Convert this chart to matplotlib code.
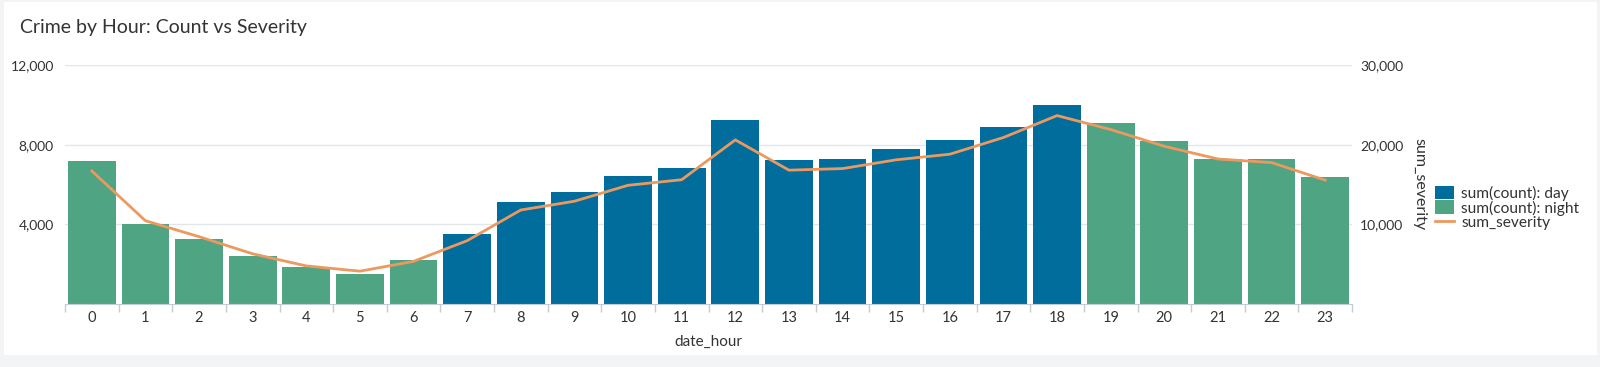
import matplotlib
matplotlib.use("Agg")
import matplotlib.pyplot as plt
from matplotlib.patches import Patch, Rectangle
from matplotlib.lines import Line2D
from matplotlib.ticker import FuncFormatter, FixedLocator
import numpy as np

hours = list(range(24))
period = ["night"] * 7 + ["day"] * 12 + ["night"] * 5
counts = [7200, 4000, 3250, 2400, 1850, 1530, 2230, 3490, 5130, 5640, 6420, 6840,
          9230, 7240, 7290, 7800, 8220, 8890, 10000, 9080, 8200, 7300, 7300, 6360]
severity = [16700, 10450, 8450, 6300, 4780, 4120, 5350, 7950, 11800, 12900, 14900, 15600,
            20600, 16800, 17000, 18100, 18800, 20900, 23650, 21900, 19800, 18200, 17750, 15550]

C_DAY = "#006D9C"
C_NIGHT = "#4FA484"
C_SEV = "#EC9960"
TXT = "#333333"
GRID = "#E1E6EB"
AXC = "#C3CBD4"

plt.rcParams["font.family"] = ["Lato", "DejaVu Sans"]

fig = plt.figure(figsize=(16, 3.67), dpi=100)
fig.patch.set_facecolor("#F2F4F5")
fig.add_artist(Rectangle((4 / 1600, 12 / 367), 1593 / 1600, 353 / 367,
                         transform=fig.transFigure, facecolor="white", edgecolor="none", zorder=0))

ax = fig.add_axes([65 / 1600, 63 / 367, 1287 / 1600, 239 / 367])
ax.set_facecolor("none")
x = np.arange(len(hours))
cnt = np.array(counts)
is_day = np.array([p == "day" for p in period])
ax.bar(x[is_day], cnt[is_day], width=0.89, color=C_DAY, zorder=2)
ax.bar(x[~is_day], cnt[~is_day], width=0.89, color=C_NIGHT, zorder=2)

ax.set_xlim(-0.5, len(hours) - 0.5)
ax.set_ylim(0, 12000)
ax.yaxis.set_major_locator(FixedLocator([4000, 8000, 12000]))
ax.yaxis.set_major_formatter(FuncFormatter(lambda v, p: f"{int(v):,}"))
ax.grid(axis="y", color=GRID, linewidth=1, zorder=0)
ax.set_axisbelow(True)
for s in ["top", "right", "left"]:
    ax.spines[s].set_visible(False)
ax.spines["bottom"].set_color(AXC)
ax.tick_params(axis="y", length=0, labelsize=10, labelcolor=TXT, pad=8)
ax.set_xticks(x)
ax.set_xticklabels([str(h) for h in hours])
ax.tick_params(axis="x", which="major", length=0, labelsize=10.5, labelcolor=TXT, pad=5)
ax.set_xticks(np.arange(-0.5, len(hours)), minor=True)
ax.tick_params(axis="x", which="minor", length=6, color=AXC, width=1)
ax.set_xlabel("date_hour", fontsize=11, color=TXT, labelpad=7)

ax2 = ax.twinx()
ax2.plot(x, severity, color=C_SEV, linewidth=2, zorder=3, solid_joinstyle="round")
ax2.set_ylim(0, 30000)
ax2.yaxis.set_major_locator(FixedLocator([10000, 20000, 30000]))
ax2.yaxis.set_major_formatter(FuncFormatter(lambda v, p: f"{int(v):,}"))
for s in ["top", "right", "left", "bottom"]:
    ax2.spines[s].set_visible(False)
ax2.tick_params(axis="y", length=0, labelsize=10, labelcolor=TXT, pad=6)
ax2.set_ylabel("sum_severity", fontsize=11.5, color=TXT, rotation=270, va="bottom")
ax2.yaxis.set_label_coords(1.047, 0.5)

fig.text(20 / 1600, 1 - 27 / 367, "Crime by Hour: Count vs Severity", fontsize=14,
         color=TXT, va="center", ha="left")

handles = [Patch(facecolor=C_DAY, edgecolor="none"),
           Patch(facecolor=C_NIGHT, edgecolor="none"),
           Line2D([0], [0], color=C_SEV, linewidth=2)]
labels = ["sum(count): day", "sum(count): night", "sum_severity"]
fig.legend(handles, labels, loc="center left", bbox_to_anchor=(1435 / 1600, 1 - 208 / 367),
           frameon=False, fontsize=11.2, handlelength=1.25, handleheight=0.98,
           labelspacing=-0.02, handletextpad=0.45, borderpad=0, borderaxespad=0,
           labelcolor=TXT)

fig.savefig("out.png", dpi=100)
